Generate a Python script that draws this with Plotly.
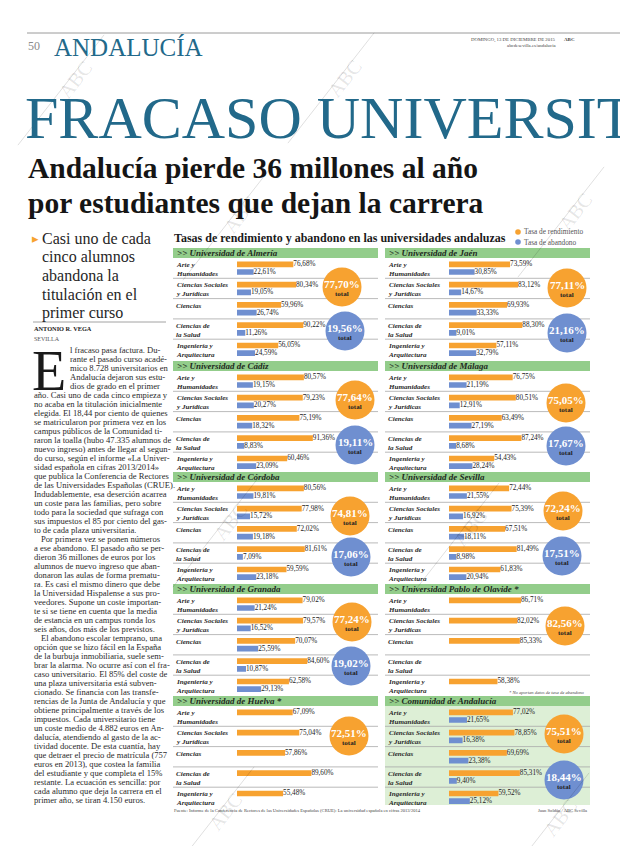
import math
import plotly.graph_objects as go

W, H = 620, 846
SERIF = "Liberation Serif"


def px(x):
    return x / W


def py(y):
    return 1 - y / H


# ---------------- DATA ----------------
categories = ["Arte y Humanidades", "Ciencias Sociales y Jurídicas", "Ciencias",
              "Ciencias de la Salud", "Ingeniería y Arquitectura"]
category_labels = ["Arte y<br>Humanidades", "Ciencias Sociales<br>y Jurídicas", "Ciencias",
                   "Ciencias de<br>la Salud", "Ingeniería y<br>Arquitectura"]

panel_titles = ["Universidad de Almería", "Universidad de Jaén", "Universidad de Cádiz",
                "Universidad de Málaga", "Universidad de Córdoba", "Universidad de Sevilla",
                "Universidad de Granada", "Universidad Pablo de Olavide *",
                "Universidad de Huelva *", "Comunidad de Andalucía"]

rend_almeria = [76.68, 80.34, 59.96, 90.22, 56.05]
aband_almeria = [22.61, 19.05, 26.74, 11.26, 24.59]
rend_jaen = [73.59, 83.12, 69.93, 88.30, 57.11]
aband_jaen = [30.85, 14.67, 33.33, 9.01, 32.79]
rend_cadiz = [80.57, 79.23, 75.19, 91.36, 60.46]
aband_cadiz = [19.15, 20.27, 18.32, 8.83, 23.09]
rend_malaga = [76.75, 80.51, 63.49, 87.24, 54.43]
aband_malaga = [21.19, 12.91, 27.19, 8.68, 28.24]
rend_cordoba = [80.56, 77.98, 72.02, 81.61, 59.59]
aband_cordoba = [19.81, 15.72, 19.18, 7.09, 23.18]
rend_sevilla = [72.44, 75.39, 67.51, 81.49, 61.83]
aband_sevilla = [21.55, 16.92, 18.11, 8.98, 20.94]
rend_granada = [79.02, 79.57, 70.07, 84.60, 62.58]
aband_granada = [21.24, 16.52, 25.59, 10.87, 29.13]
rend_olavide = [86.71, 82.02, 85.33, None, 58.38]
aband_olavide = [None, None, None, None, None]
rend_huelva = [67.09, 75.04, 57.86, 89.60, 55.48]
aband_huelva = [None, None, None, None, None]
rend_andalucia = [77.02, 78.85, 69.69, 85.31, 59.52]
aband_andalucia = [21.65, 16.38, 23.38, 9.40, 25.12]

total_rend = [77.70, 77.11, 77.64, 75.05, 74.81, 72.24, 77.24, 82.56, 72.51, 75.51]
total_aband = [19.56, 21.16, 19.11, 17.67, 17.06, 17.51, 19.02, None, None, 18.44]

rend_series = [rend_almeria, rend_jaen, rend_cadiz, rend_malaga, rend_cordoba,
               rend_sevilla, rend_granada, rend_olavide, rend_huelva, rend_andalucia]
aband_series = [aband_almeria, aband_jaen, aband_cadiz, aband_malaga, aband_cordoba,
                aband_sevilla, aband_granada, aband_olavide, aband_huelva, aband_andalucia]

# ---------------- LAYOUT / STYLE ----------------
ORANGE = "#F7A230"
BLUE = "#6F8FD0"
GREEN = "#93CD8B"
LIGHTGREEN = "#DDEFD6"
TEAL = "#22698A"
TXT = "#222222"

row_header_y = [253, 366, 477, 589, 701]
col_x = [(173, 378), (385, 590)]
bar_start = [237, 449]
bar_len100 = 83.0
xmax = [113, 100, 100, 100, 100, 100, 100, 100, 100, 100]
circle_rend_xy = [(342, 287), (567, 288), (355, 400), (566, 403), (350, 516),
                  (563, 511), (352, 622), (565, 626), (349, 736), (564, 734)]
circle_aband_xy = [(345, 331), (567, 333), (355, 445), (566, 446), (351, 557),
                   (562, 556), (351, 666), None, None, (564, 780)]
R = 19.5

fig = go.Figure()
annotations = []
shapes = []


def text(x, y, s, size, color=TXT, xanchor="left", yanchor="middle", angle=0, family=SERIF):
    annotations.append(dict(x=px(x), y=py(y), xref="paper", yref="paper", text=s,
                            showarrow=False, xanchor=xanchor, yanchor=yanchor,
                            font=dict(family=family, size=size, color=color),
                            textangle=angle, borderpad=0))


def rect(x0, y0, x1, y1, fill, layer="below"):
    shapes.append(dict(type="rect", xref="paper", yref="paper", x0=px(x0), x1=px(x1),
                       y0=py(y1), y1=py(y0), fillcolor=fill, line=dict(width=0), layer=layer))


def hline(x0, x1, y, color="#999999", width=0.8):
    shapes.append(dict(type="line", xref="paper", yref="paper", x0=px(x0), x1=px(x1),
                       y0=py(y), y1=py(y), line=dict(color=color, width=width), layer="below"))


def circle(cx, cy, r, fill, layer="above"):
    shapes.append(dict(type="circle", xref="paper", yref="paper", x0=px(cx - r), x1=px(cx + r),
                       y0=py(cy + r), y1=py(cy - r), fillcolor=fill, line=dict(width=0), layer=layer))


def pct(v):
    return f"{v:.2f}".replace(".", ",") + "%"


layout_axes = {}
for i in range(10):
    row, col = i // 2, i % 2
    n = "" if i == 0 else str(i + 1)
    hc = row_header_y[row]
    cx0, cx1 = col_x[col]
    xs = bar_start[col]
    if i == 9:
        rect(cx0, hc - 5, cx1, hc + 104, LIGHTGREEN)
    rect(cx0, hc - 5, cx1, hc + 5, GREEN)
    text(cx0 + 3, hc, "<b><i>&gt;&gt; " + panel_titles[i] + "</i></b>", 9, color="#1E2A1E")

    layout_axes["xaxis" + n] = dict(domain=[px(xs), px(xs + bar_len100)], range=[0, xmax[i]],
                                    visible=False, fixedrange=True, anchor="y" + n)
    layout_axes["yaxis" + n] = dict(domain=[py(hc + 106.5), py(hc + 5)], type="category",
                                    categoryorder="array", categoryarray=categories,
                                    range=[4.5, -0.5], visible=False, fixedrange=True,
                                    anchor="x" + n)

    common = dict(y=categories, orientation="h", xaxis="x" + n, yaxis="y" + n,
                  width=0.28, textposition="outside", cliponaxis=False,
                  constraintext="none", texttemplate="%{x:.2f}%",
                  textfont=dict(family=SERIF, size=7.2, color=TXT), showlegend=False,
                  hoverinfo="skip")
    fig.add_trace(go.Bar(x=rend_series[i], offset=-0.33, marker=dict(color=ORANGE, line=dict(width=0)),
                         name="Tasa de rendimiento", **common))
    fig.add_trace(go.Bar(x=aband_series[i], offset=0.05, marker=dict(color=BLUE, line=dict(width=0)),
                         name="Tasa de abandono", **common))

    for k, lab in enumerate(category_labels):
        annotations.append(dict(x=px(cx0 + 2), y=categories[k], xref="paper", yref="y" + n,
                                text="<b><i>" + lab + "</i></b>", showarrow=False,
                                xanchor="left", yanchor="top", yshift=8, align="left",
                                font=dict(family=SERIF, size=7.1, color="#2a2a2a"), borderpad=0))
    for k in range(4):
        shapes.append(dict(type="line", xref="paper", yref="y" + n, x0=px(cx0), x1=px(cx1),
                           y0=k + 0.5, y1=k + 0.5, line=dict(color="#A8A8A8", width=0.8),
                           layer="below"))

    rx, ry = circle_rend_xy[i]
    circle(rx, ry, R, ORANGE)
    text(rx, ry - 3, "<b>" + pct(total_rend[i]) + "</b>", 11, color="white", xanchor="center")
    text(rx, ry + 7, "<b>total</b>", 7, color="#222", xanchor="center")
    if total_aband[i] is not None:
        bx, by = circle_aband_xy[i]
        circle(bx, by, R, BLUE)
        text(bx, by - 3, "<b>" + pct(total_aband[i]) + "</b>", 11, color="white", xanchor="center")
        text(bx, by + 7, "<b>total</b>", 7, color="#222", xanchor="center")

# ---------------- PAGE TEXT ----------------
hline(27, 620, 33, color="#9a9a9a", width=1)
text(27, 46, "50", 12, color="#8a8a8a")
text(53, 47, "ANDALUCÍA", 25, color=TEAL)
text(557, 40, "DOMINGO, 13 DE DICIEMBRE DE 2015", 4.8, color="#444", xanchor="right")
text(563, 40, "<b>ABC</b>", 5, color="#444")
text(557, 46, "abcdesevilla.es/andalucia", 4.8, color="#444", xanchor="right")
text(24, 118, "FRACASO UNIVERSIT", 60, color=TEAL)
text(27, 168, "<b>Andalucía pierde 36 millones al año</b>", 29.5, color="#151515")
text(27, 203, "<b>por estudiantes que dejan la carrera</b>", 29.5, color="#151515")

text(173, 238, "<b>Tasas de rendimiento y abandono en las universidades andaluzas</b>", 12,
     color="#1a1a1a")
circle(518, 232, 2.8, ORANGE)
circle(518, 242, 2.8, BLUE)
text(523, 232, "Tasa de rendimiento", 7.3, color="#555")
text(523, 242, "Tasa de abandono", 7.3, color="#555")

text(586, 692, "<i>* No aportan datos de tasa de abandono</i>", 4.6, color="#444", xanchor="right")
text(173, 810, "Fuente: Informe de la Conferencia de Rectores de las Universidades Españolas (CRUE): "
     "La universidad española en cifras 2013/2014", 4.6, color="#444")
text(588, 810, "Juan Soldán / ABC Sevilla", 4.6, color="#444", xanchor="right")

text(31, 238, "▸", 13, color=ORANGE)
sub = ["Casi uno de cada", "cinco alumnos", "abandona la", "titulación en el", "primer curso"]
for j, s in enumerate(sub):
    text(41, 238 + 18.8 * j, s, 16, color="#262626")
hline(33, 166, 322, color="#8a8a8a", width=0.8)
text(33, 329, "<b>ANTONIO R. VEGA</b>", 6.3, color="#222")
text(33, 339, "SEVILLA", 6, color="#555")

text(31, 371, "E", 56, color="#1a1a1a")
body = [
    "l fracaso pasa factura. Du-",
    "rante el pasado curso acadé-",
    "mico 8.728 universitarios en",
    "Andalucía dejaron sus estu-",
    "dios de grado en el primer",
    "año. Casi uno de cada cinco empieza y",
    "no acaba en la titulación inicialmente",
    "elegida. El 18,44 por ciento de quienes",
    "se matricularon por primera vez en los",
    "campus públicos de la Comunidad ti-",
    "raron la toalla (hubo 47.335 alumnos de",
    "nuevo ingreso) antes de llegar al segun-",
    "do curso, según el informe «La Univer-",
    "sidad española en cifras 2013/2014»",
    "que publica la Conferencia de Rectores",
    "de las Universidades Españolas (CRUE).",
    "Indudablemente, esa deserción acarrea",
    "un coste para las familias, pero sobre",
    "todo para la sociedad que sufraga con",
    "sus impuestos el 85 por ciento del gas-",
    "to de cada plaza universitaria.",
    "   Por primera vez se ponen números",
    "a ese abandono. El pasado año se per-",
    "dieron 36 millones de euros por los",
    "alumnos de nuevo ingreso que aban-",
    "donaron las aulas de forma prematu-",
    "ra. Es casi el mismo dinero que debe",
    "la Universidad Hispalense a sus pro-",
    "veedores. Supone un coste importan-",
    "te si se tiene en cuenta que la media",
    "de estancia en un campus ronda los",
    "seis años, dos más de los previstos.",
    "   El abandono escolar temprano, una",
    "opción que se hizo fácil en la España",
    "de la burbuja inmobiliaria, suele sem-",
    "brar la alarma. No ocurre así con el fra-",
    "caso universitario. El 85% del coste de",
    "una plaza universitaria está subven-",
    "cionado. Se financia con las transfe-",
    "rencias de la Junta de Andalucía y que",
    "obtiene principalmente a través de los",
    "impuestos. Cada universitario tiene",
    "un coste medio de 4.882 euros en An-",
    "dalucía, atendiendo al gasto de la ac-",
    "tividad docente. De esta cuantía, hay",
    "que detraer el precio de matrícula (757",
    "euros en 2013), que costea la familia",
    "del estudiante y que completa el 15%",
    "restante. La ecuación es sencilla: por",
    "cada alumno que deja la carrera en el",
    "primer año, se tiran 4.150 euros.",
]
for j, s in enumerate(body):
    x0 = 69 if j < 5 else 33
    if s.startswith("   "):
        s = s.strip()
        x0 = 40
    text(x0, 350 + 9 * j, s, 8.6, color="#2a2a2a")

wm_color = "rgba(0,0,0,0.16)"
for (cx, cy) in [(75, 80), (345, 78), (240, 215), (575, 212), (230, 522), (470, 528),
                 (225, 812), (560, 818)]:
    a = math.radians(52)
    L = 70
    shapes.append(dict(type="line", xref="paper", yref="paper",
                       x0=px(cx - 14 - L * math.cos(a)), y0=py(cy + 10 + L * math.sin(a)),
                       x1=px(cx - 14 + L * math.cos(a)), y1=py(cy + 10 - L * math.sin(a)),
                       line=dict(color=wm_color, width=0.8), layer="above"))
    text(cx, cy, "ABC", 20, color="rgba(0,0,0,0.10)", xanchor="center", angle=-52)

fig.update_layout(
    width=W, height=H, margin=dict(l=0, r=0, t=0, b=0),
    paper_bgcolor="white", plot_bgcolor="rgba(0,0,0,0)",
    barmode="overlay", separators=",.", showlegend=False,
    annotations=annotations, shapes=shapes, **layout_axes,
)

fig.write_html("out.html", config={"displayModeBar": False},
               post_script="document.body.style.margin='0';document.body.style.overflow='hidden';")
